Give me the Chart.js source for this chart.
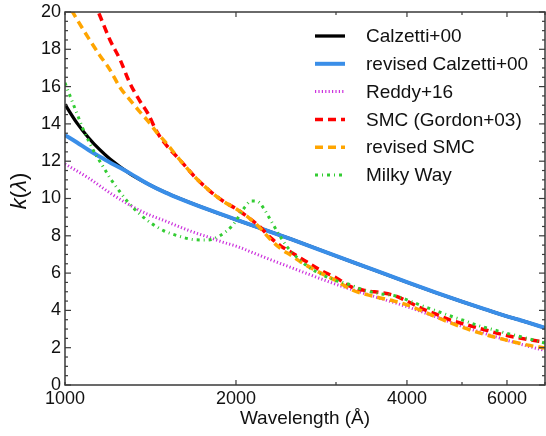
<!DOCTYPE html>
<html>
<head>
<meta charset="utf-8">
<script src="https://cdn.jsdelivr.net/npm/chart.js@4"></script>
<style>
  html, body { margin: 0; padding: 0; background: #fff; }
  canvas { display: block; }
</style>
</head>
<body>
<canvas id="chart" width="546" height="436"></canvas>
<script>
//Data (wavelength in Angstrom, k(lambda))
const calzWave = [1000, 1050, 1100, 1150, 1200, 1300, 1400, 1500, 1600, 1800, 2000, 2200, 2500, 3000, 3500, 4000, 4500, 5000, 5500, 6000, 6300, 6500, 7000];
const calzK    = [15.04, 14.04, 13.26, 12.63, 12.12, 11.34, 10.78, 10.33, 9.97, 9.37, 8.87, 8.42, 7.82, 6.92, 6.17, 5.51, 4.95, 4.47, 4.05, 3.68, 3.50, 3.37, 3.06];

const revCalzWave = [1000, 1050, 1100, 1150, 1200, 1250, 1300, 1400, 1500, 1600, 1800, 2000, 2200, 2500, 3000, 3500, 4000, 4500, 5000, 5500, 6000, 6300, 6500, 7000];
const revCalzK    = [13.4, 13.0, 12.6, 12.25, 11.93, 11.65, 11.36, 10.78, 10.33, 9.97, 9.37, 8.87, 8.42, 7.82, 6.92, 6.17, 5.51, 4.95, 4.47, 4.05, 3.68, 3.50, 3.37, 3.06];

const reddyWave = [1000, 1100, 1200, 1300, 1400, 1500, 1600, 1700, 1800, 1900, 2000, 2200, 2500, 3000, 3500, 4000, 4500, 5000, 5500, 6000, 6500, 7000];
const reddyK    = [11.85, 11.1, 10.3, 9.65, 9.15, 8.8, 8.45, 8.15, 7.9, 7.65, 7.45, 6.95, 6.3, 5.4, 4.75, 4.2, 3.65, 3.15, 2.75, 2.4, 2.1, 1.85];

const smcWave = [1100, 1150, 1200, 1250, 1300, 1350, 1400, 1450, 1500, 1600, 1700, 1800, 1900, 2000, 2100, 2200, 2300, 2400, 2500, 2600, 2800, 3000, 3200, 3400, 3600, 3800, 4000, 4250, 4500, 4750, 5000, 5500, 6000, 6500, 7000];
const smcK    = [21.2, 19.85, 18.5, 17.45, 16.2, 15.3, 14.55, 13.6, 12.95, 12.0, 11.1, 10.4, 9.85, 9.45, 9.0, 8.5, 7.9, 7.45, 7.12, 6.8, 6.2, 5.75, 5.25, 5.05, 4.95, 4.8, 4.5, 4.1, 3.8, 3.5, 3.3, 2.95, 2.65, 2.45, 2.3];

const revSmcWave = [1000, 1050, 1100, 1150, 1200, 1250, 1300, 1350, 1400, 1450, 1500, 1600, 1700, 1800, 1900, 2000, 2100, 2200, 2300, 2400, 2500, 2600, 2800, 3000, 3200, 3500, 3800, 4000, 4500, 5000, 5500, 6000, 6500, 7000];
const revSmcK    = [20.7, 19.6, 18.6, 17.7, 16.9, 15.95, 15.3, 14.7, 14.15, 13.55, 13.05, 12.0, 11.1, 10.4, 9.85, 9.45, 9.0, 8.45, 7.8, 7.3, 6.95, 6.6, 6.05, 5.6, 5.1, 4.75, 4.5, 4.3, 3.65, 3.1, 2.7, 2.4, 2.15, 1.98];

const mwWave = [1000, 1025, 1050, 1075, 1100, 1130, 1165, 1200, 1250, 1300, 1350, 1415, 1490, 1580, 1680, 1780, 1880, 1975, 2075, 2130, 2180, 2235, 2305, 2375, 2455, 2560, 2680, 2830, 3000, 3160, 3350, 3550, 3850, 4050, 4250, 4500, 4750, 5050, 5350, 5700, 6000, 6400, 6800, 7000];
const mwK    = [16.2, 15.35, 14.55, 13.75, 13.1, 12.4, 11.75, 11.1, 10.35, 9.7, 9.2, 8.7, 8.28, 8.0, 7.8, 7.77, 8.03, 8.58, 9.55, 9.87, 9.85, 9.5, 8.8, 8.13, 7.45, 6.85, 6.34, 5.93, 5.6, 5.4, 5.1, 4.92, 4.75, 4.5, 4.25, 3.98, 3.72, 3.45, 3.18, 2.95, 2.77, 2.56, 2.35, 2.25];

//Axes
const xTicks = [1000, 2000, 3000, 4000, 5000, 6000, 7000];
const xLabels = [1000, 2000, 4000, 6000];
const yMin = 0, yMax = 20, yStep = 2;

const FONT = "'Liberation Sans', Arial, Helvetica, sans-serif";

function pts(w, k) {
    return w.map((v, i) => ({x: v, y: k[i]}));
}

function makeSet(label, w, k, colour, width, dash, order) {
    return {
        label: label,
        data: pts(w, k),
        borderColor: colour,
        backgroundColor: colour,
        borderWidth: width,
        borderDash: dash,
        pointRadius: 0,
        tension: 0.4,
        cubicInterpolationMode: 'monotone',
        fill: false,
        order: order
    };
}

const datasets = [
    makeSet('Calzetti+00', calzWave, calzK, '#000000', 3.3, [], 6),
    makeSet('revised Calzetti+00', revCalzWave, revCalzK, '#3a8ee8', 4, [], 5),
    makeSet('Reddy+16', reddyWave, reddyK, '#cc33dd', 3, [1.2, 2.2], 4),
    makeSet('SMC (Gordon+03)', smcWave, smcK, '#ff0000', 3.5, [8, 5], 3),
    makeSet('revised SMC', revSmcWave, revSmcK, '#ffa500', 3.5, [8, 5], 2),
    makeSet('Milky Way', mwWave, mwK, '#33cc33', 3, [3, 4, 1, 4], 1)
];

function line(ctx, x1, y1, x2, y2) {
    ctx.beginPath();
    ctx.moveTo(x1, y1);
    ctx.lineTo(x2, y2);
    ctx.stroke();
}

//frame, inward ticks, legend and axis titles
const decor = {
    id: 'decor',
    afterDraw(chart) {
        const ctx = chart.ctx;
        const a = chart.chartArea;
        const x = chart.scales.x, y = chart.scales.y;
        ctx.save();
        ctx.strokeStyle = '#3a3a3a';
        ctx.lineWidth = 1.5;
        ctx.strokeRect(a.left, a.top, a.right - a.left, a.bottom - a.top);
        ctx.lineWidth = 1.2;
        for (let v = yMin; v <= yMax; v += 0.5) {
            const len = (v % yStep === 0) ? 6 : 3;
            const py = y.getPixelForValue(v);
            line(ctx, a.left, py, a.left + len, py);
            line(ctx, a.right, py, a.right - len, py);
        }
        xTicks.forEach(v => {
            const len = (v % 2000 === 0) ? 5 : 3;
            const px = x.getPixelForValue(v);
            line(ctx, px, a.bottom, px, a.bottom - len);
            line(ctx, px, a.top, px, a.top + len);
        });

        //legend
        ctx.font = '19px ' + FONT;
        ctx.textBaseline = 'middle';
        ctx.textAlign = 'left';
        chart.data.datasets.forEach((ds, i) => {
            const ly = 36 + i * 27.8;
            ctx.strokeStyle = ds.borderColor;
            ctx.lineWidth = ds.borderWidth;
            ctx.setLineDash(ds.borderDash);
            line(ctx, 315, ly, 345, ly);
            ctx.setLineDash([]);
            ctx.fillStyle = '#111';
            ctx.fillText(ds.label, 366, ly + 1);
        });

        //x title
        ctx.fillStyle = '#111';
        ctx.textAlign = 'center';
        ctx.font = '19px ' + FONT;
        ctx.fillText('Wavelength (\u00c5)', (a.left + a.right) / 2, 419);

        //y title k(lambda)
        ctx.translate(20, 191);
        ctx.rotate(-Math.PI / 2);
        const parts = [['k', 'italic '], ['(', ''], ['\u03bb', 'italic '], [')', '']];
        let total = 0;
        parts.forEach(p => { ctx.font = p[1] + '22px ' + FONT; total += ctx.measureText(p[0]).width; });
        let cx = -total / 2;
        ctx.textAlign = 'left';
        parts.forEach(p => {
            ctx.font = p[1] + '22px ' + FONT;
            ctx.fillText(p[0], cx, 0);
            cx += ctx.measureText(p[0]).width;
        });
        ctx.restore();
    }
};

new Chart(document.getElementById('chart'), {
    type: 'line',
    data: {datasets: datasets},
    options: {
        responsive: false,
        animation: false,
        devicePixelRatio: 1,
        layout: {padding: {top: 12, right: 1, left: 0, bottom: 0}},
        plugins: {legend: {display: false}, tooltip: {enabled: false}},
        scales: {
            x: {
                type: 'logarithmic',
                min: 1000,
                max: 7000,
                afterBuildTicks: (s) => { s.ticks = xTicks.map(v => ({value: v})); },
                afterFit: (s) => { s.height = 51; s.paddingLeft = 0; s.paddingRight = 0; },
                ticks: {
                    autoSkip: false,
                    maxRotation: 0,
                    padding: 3,
                    color: '#111',
                    font: {family: FONT, size: 18},
                    callback: (v) => xLabels.includes(v) ? String(v) : ''
                },
                grid: {display: false, drawTicks: false},
                border: {display: false}
            },
            y: {
                min: yMin,
                max: yMax,
                afterFit: (s) => { s.width = 65; s.paddingTop = 0; s.paddingBottom = 0; },
                ticks: {
                    stepSize: yStep,
                    padding: 4,
                    color: '#111',
                    font: {family: FONT, size: 18}
                },
                grid: {display: false, drawTicks: false},
                border: {display: false}
            }
        }
    },
    plugins: [decor]
});
</script>
</body>
</html>
